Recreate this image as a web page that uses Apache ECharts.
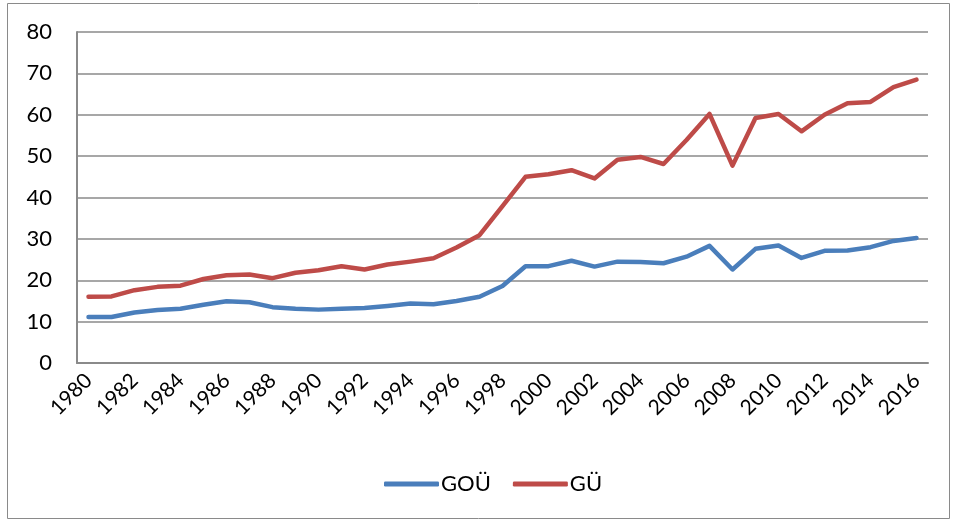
<!DOCTYPE html>
<html>
<head>
<meta charset="utf-8">
<script src="https://cdn.jsdelivr.net/npm/echarts@6/dist/echarts.min.js"></script>
<style>
    html, body { margin: 0; padding: 0; background: #fff; }
    #chart { width: 958px; height: 525px; }
</style>
</head>
<body>
<div id="chart"></div>
<script>
/* yıllar ve seriler */
var years = [];
for (var y = 1980; y <= 2016; y++) { years.push(String(y)); }

var goU = [11.1, 11.1, 12.2, 12.8, 13.1, 14.1, 14.9, 14.7, 13.5, 13.1,
           12.9, 13.1, 13.3, 13.8, 14.4, 14.2, 15.0, 16.0, 18.6, 23.4,
           23.4, 24.7, 23.3, 24.5, 24.4, 24.1, 25.7, 28.3, 22.6, 27.6,
           28.4, 25.4, 27.1, 27.2, 28.0, 29.5, 30.2];

var gU = [16.0, 16.1, 17.6, 18.4, 18.7, 20.3, 21.2, 21.4, 20.5, 21.8,
          22.4, 23.4, 22.6, 23.8, 24.5, 25.3, 27.9, 30.9, 37.9, 45.0,
          45.6, 46.6, 44.6, 49.1, 49.8, 48.1, 53.9, 60.2, 47.7, 59.2,
          60.2, 56.0, 60.0, 62.8, 63.1, 66.7, 68.5];

var seriesNames = ['GOÜ', 'GÜ'];
var yTicks = { min: 0, max: 80, interval: 10 };

var fontFam = 'Lato, "Open Sans", sans-serif';

var chart = echarts.init(document.getElementById('chart'));

// seçenekler
var option = {
    animation: false,
    backgroundColor: '#fff',
    graphic: [{
        type: 'rect',
        shape: { x: 7.5, y: 3.5, width: 942, height: 515 },
        style: { fill: 'none', stroke: '#8a8a8a', lineWidth: 1 },
        silent: true
    }],
    grid: { left: 77, right: 30, top: 32, bottom: 162 },
    legend: {
        data: seriesNames,
        left: 379,
        top: 468,
        itemWidth: 55,
        itemHeight: 5,
        itemGap: 22,
        icon: 'roundRect',
        textStyle: { fontFamily: fontFam, fontSize: 22, color: '#000', padding: [0, 0, 0, -3] }
    },
    xAxis: {
        type: 'category',
        data: years,
        boundaryGap: true,
        axisLine: { lineStyle: { color: '#8a8a8a', width: 2 } },
        axisTick: { show: false },
        axisLabel: {
            interval: 1,
            rotate: 45,
            margin: 14,
            fontFamily: fontFam,
            fontSize: 21,
            color: '#000'
        }
    },
    yAxis: {
        type: 'value',
        min: yTicks.min,
        max: yTicks.max,
        interval: yTicks.interval,
        axisLine: { show: true, lineStyle: { color: '#8a8a8a', width: 2 } },
        axisTick: { show: false },
        splitLine: { lineStyle: { color: '#8a8a8a', width: 1.5 } },
        axisLabel: {
            margin: 25,
            fontFamily: fontFam,
            fontSize: 22,
            color: '#000'
        }
    },
    series: [
        {
            name: seriesNames[0],
            type: 'line',
            data: goU,
            symbol: 'none',
            color: '#4a7ebb',
            lineStyle: { width: 4.5, color: '#4a7ebb', cap: 'round', join: 'round' }
        },
        {
            name: seriesNames[1],
            type: 'line',
            data: gU,
            symbol: 'none',
            color: '#be4b48',
            lineStyle: { width: 4.5, color: '#be4b48', cap: 'round', join: 'round' }
        }
    ]
};

chart.setOption(option);
</script>
</body>
</html>
